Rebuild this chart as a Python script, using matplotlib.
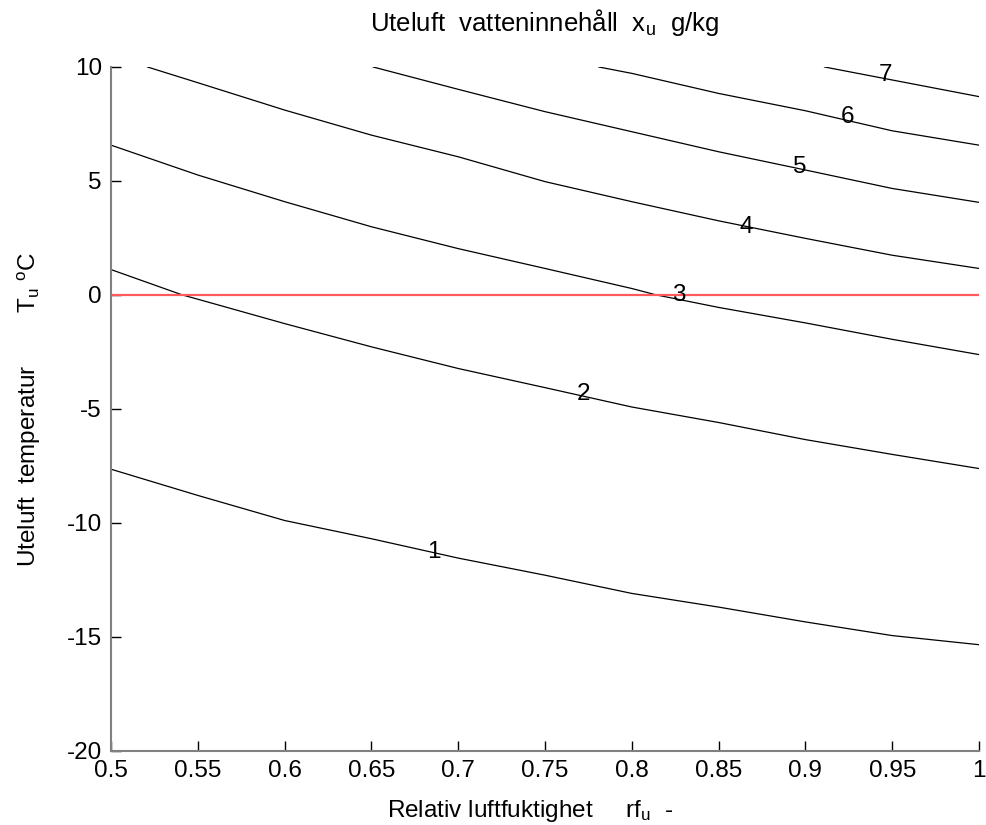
import matplotlib
matplotlib.use("Agg")
import matplotlib.pyplot as plt

plt.rcParams["font.family"] = ["Liberation Sans", "DejaVu Sans"]
plt.rcParams["mathtext.fontset"] = "custom"
plt.rcParams["mathtext.rm"] = "Liberation Sans"
plt.rcParams["mathtext.it"] = "Liberation Sans"
plt.rcParams["axes.unicode_minus"] = False

# contour levels x_u (g/kg), each traced as rf -> T
levels = [1, 2, 3, 4, 5, 6, 7]

rf_1 = [0.50, 0.55, 0.60, 0.65, 0.70, 0.75, 0.80, 0.85, 0.90, 0.95, 1.00]
t_1 = [-7.65, -8.8, -9.9, -10.7, -11.55, -12.3, -13.1, -13.7, -14.35, -14.95, -15.35]

rf_2 = [0.50, 0.541, 0.55, 0.60, 0.65, 0.70, 0.75, 0.80, 0.85, 0.90, 0.95, 1.00]
t_2 = [1.11, 0.0, -0.19, -1.26, -2.28, -3.23, -4.07, -4.92, -5.6, -6.35, -7.0, -7.62]

rf_3 = [0.50, 0.55, 0.60, 0.65, 0.70, 0.75, 0.80, 0.814, 0.85, 0.90, 0.95, 1.00]
t_3 = [6.57, 5.26, 4.09, 2.99, 2.03, 1.16, 0.28, 0.0, -0.55, -1.23, -1.95, -2.62]

rf_4 = [0.521, 0.55, 0.60, 0.65, 0.70, 0.75, 0.80, 0.85, 0.90, 0.95, 1.00]
t_4 = [10.0, 9.31, 8.11, 7.01, 6.06, 4.97, 4.09, 3.25, 2.48, 1.74, 1.16]

rf_5 = [0.651, 0.70, 0.75, 0.80, 0.85, 0.90, 0.95, 1.00]
t_5 = [10.0, 9.02, 8.04, 7.16, 6.28, 5.48, 4.67, 4.06]

rf_6 = [0.781, 0.80, 0.85, 0.90, 0.95, 1.00]
t_6 = [10.0, 9.72, 8.84, 8.08, 7.2, 6.57]

rf_7 = [0.911, 0.95, 1.00]
t_7 = [10.0, 9.43, 8.70]

# inline label positions (rf, T)
lbl_rf = [0.686, 0.772, 0.827, 0.866, 0.897, 0.924, 0.946]
lbl_t = [-11.3, -4.35, 0.0, 3.0, 5.6, 7.8, 9.65]

lines_rf = [rf_1, rf_2, rf_3, rf_4, rf_5, rf_6, rf_7]
lines_t = [t_1, t_2, t_3, t_4, t_5, t_6, t_7]

fs = 17.5

fig = plt.figure(figsize=(9.86, 8.25), dpi=100)
ax = fig.add_axes([0.1126, 0.0901, 0.8803, 0.8287])

for rf, t in zip(lines_rf, lines_t):
    ax.plot(rf, t, color="black", linewidth=0.9)

ax.axhline(0, color="#ff5a5a", linewidth=1.6)

for lev, x, y in zip(levels, lbl_rf, lbl_t):
    ax.text(x, y, str(lev), fontsize=fs, ha="center", va="center")

ax.set_xlim(0.5, 1.0)
ax.set_ylim(-20, 10)
ax.set_xticks([0.5, 0.55, 0.6, 0.65, 0.7, 0.75, 0.8, 0.85, 0.9, 0.95, 1.0])
ax.set_xticklabels(["0.5", "0.55", "0.6", "0.65", "0.7", "0.75", "0.8", "0.85", "0.9", "0.95", "1"])
ax.set_yticks([-20, -15, -10, -5, 0, 5, 10])

ax.spines["top"].set_visible(False)
ax.spines["right"].set_visible(False)
for s in ["left", "bottom"]:
    ax.spines[s].set_color("#808080")
    ax.spines[s].set_linewidth(1.5)
ax.tick_params(direction="in", length=7, width=1, colors="black", labelsize=fs, pad=6.5)

ax.set_title("Uteluft  vatteninnehåll  $\\mathregular{x_u}$  g/kg", fontsize=18.5, pad=26)
ax.set_xlabel("Relativ luftfuktighet     $\\mathregular{rf_u}$  -", fontsize=fs)
ax.set_ylabel("Uteluft  temperatur        $\\mathregular{T_u}$ $\\mathregular{^o}$C", fontsize=fs)
ax.xaxis.set_label_coords(0.483, -0.069)
ax.yaxis.set_label_coords(-0.078, 0.5)

fig.savefig("out.png", dpi=100)
